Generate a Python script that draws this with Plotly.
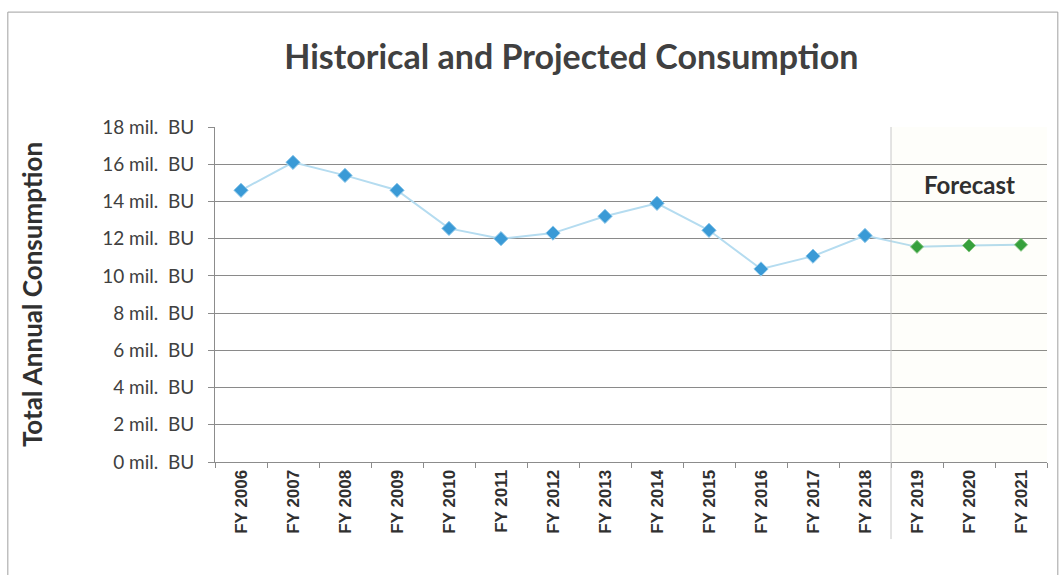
import plotly.graph_objects as go

years = ["FY 2006", "FY 2007", "FY 2008", "FY 2009", "FY 2010", "FY 2011", "FY 2012",
         "FY 2013", "FY 2014", "FY 2015", "FY 2016", "FY 2017", "FY 2018",
         "FY 2019", "FY 2020", "FY 2021"]
historical = [14.6, 16.1, 15.4, 14.6, 12.55, 12.0, 12.3, 13.2, 13.9, 12.45, 10.37, 11.06, 12.17]
forecast = [11.56, 11.63, 11.67]
ytick_vals = [0, 2, 4, 6, 8, 10, 12, 14, 16, 18]
ytick_text = [f"{v} mil.  BU" for v in ytick_vals]

hist_years = years[:len(historical)]
fc_years = years[len(historical):]

fig = go.Figure()
fig.add_trace(go.Scatter(
    x=years, y=historical + forecast, mode="lines",
    line=dict(color="#b5dcf0", width=2), hoverinfo="skip", showlegend=False))
fig.add_trace(go.Scatter(
    x=hist_years, y=historical, mode="markers",
    marker=dict(symbol="diamond", size=11, color="#3a9ad6",
                line=dict(color="#8ec8ea", width=1)),
    showlegend=False))
fig.add_trace(go.Scatter(
    x=fc_years, y=forecast, mode="markers",
    marker=dict(symbol="diamond", size=10, color="#2f9e3a",
                line=dict(color="#7fc47f", width=1)),
    showlegend=False))

fig.update_layout(
    width=1060, height=575,
    margin=dict(l=215, r=13, t=127, b=113),
    paper_bgcolor="white", plot_bgcolor="white",
    title=dict(text="<b>Historical and Projected Consumption</b>",
               x=0.539, xanchor="center", y=0.9, yanchor="middle",
               font=dict(family="Lato, Open Sans, sans-serif", size=34, color="#404040")),
    font=dict(family="Lato, sans-serif", color="#404040"),
    showlegend=False,
)
fig.update_xaxes(
    type="category", categoryorder="array", categoryarray=years,
    range=[-0.5, len(years) - 0.5],
    tickangle=-90,
    tickfont=dict(family="Liberation Sans, Arial, sans-serif", size=17, color="#303030", weight="bold"),
    showgrid=False, showline=True, linecolor="#8c8c8c", linewidth=1,
    ticks="outside", tickson="boundaries", ticklen=5, tickcolor="#8c8c8c",
)
fig.update_yaxes(
    range=[0, 18], tickvals=ytick_vals, ticktext=ytick_text,
    tickfont=dict(family="Lato, sans-serif", size=19, color="#404040"),
    showgrid=True, gridcolor="#8a8a8a", gridwidth=1,
    showline=True, linecolor="#8c8c8c", linewidth=1,
    ticks="outside", ticklen=6, tickcolor="#8c8c8c", zeroline=False,
    ticklabelstandoff=10,
    title=dict(text="<b>Total Annual Consumption</b>", standoff=52,
               font=dict(family="Lato, sans-serif", size=26, color="#303030")),
)

fig.add_shape(type="rect", xref="x", yref="paper", x0=len(historical) - 0.5, x1=len(years) - 0.5,
              y0=0, y1=1, fillcolor="rgba(230,235,140,0.04)", line_width=0, layer="above")
fig.add_shape(type="line", xref="x", yref="paper", x0=len(historical) - 0.5, x1=len(historical) - 0.5,
              y0=-0.23, y1=1, line=dict(color="#c8c8c8", width=1))
fig.add_annotation(text="<b>Forecast</b>", xref="x", yref="paper",
                   x=len(historical) + 1, y=0.878, showarrow=False,
                   font=dict(family="Lato, sans-serif", size=24, color="#303030"))
fig.add_shape(type="rect", xref="paper", yref="paper", x0=-0.249, x1=1.013, y0=-0.4, y1=1.343,
              line=dict(color="#a0a0a0", width=1), layer="below")

fig.write_html("out.html")
